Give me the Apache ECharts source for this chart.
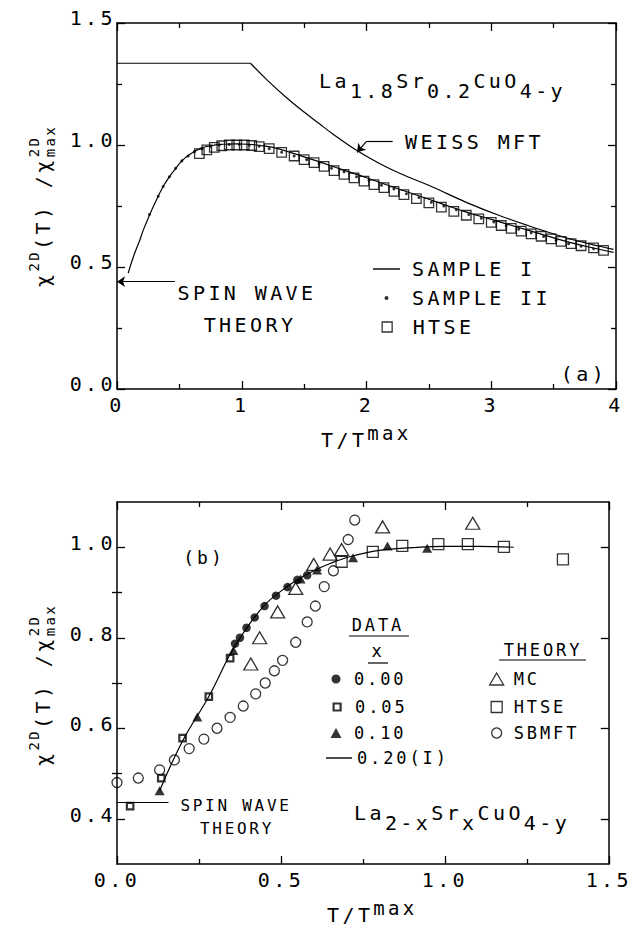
<!DOCTYPE html>
<html><head><meta charset="utf-8">
<script src="https://cdn.jsdelivr.net/npm/echarts@6.0.0/dist/echarts.min.js"></script>
<style>
html,body{margin:0;padding:0;background:#fff;}
#main{width:635px;height:931px;}
.ls #main text{letter-spacing:0.17em;}
</style></head>
<body><div id="main"></div>
<script>
// ---------- DATA: panel (a) ----------
const weissFlat = [[0,1.335],[1.07,1.335]];
const weissCurve = [[1.07,1.335],[1.2,1.268],[1.35,1.198],[1.5,1.135],[1.62,1.088],[1.73,1.045],[1.92,0.978],[2.1,0.925],[2.27,0.883],[2.53,0.828],[2.8,0.765],[3.07,0.71],[3.34,0.662],[3.6,0.62],[3.87,0.585],[3.98,0.572]];
const sample1 = [[0.09,0.475],[0.13,0.54],[0.184,0.612],[0.21,0.65],[0.25,0.70],[0.305,0.763],[0.37,0.83],[0.42,0.87],[0.465,0.90],[0.52,0.935],[0.585,0.962],[0.665,0.985],[0.75,0.997],[0.85,1.003],[0.95,1.005],[1.05,1.003],[1.15,0.998],[1.25,0.99],[1.4,0.968],[1.6,0.935],[1.8,0.9],[2.0,0.866],[2.2,0.83],[2.4,0.795],[2.6,0.76],[2.8,0.725],[3.0,0.695],[3.2,0.665],[3.4,0.635],[3.6,0.605],[3.8,0.58],[3.98,0.56]];
const sample2 = [[0.26,0.715],[0.33,0.79],[0.37,0.83],[0.42,0.87],[0.47,0.905],[0.52,0.935],[0.57,0.955],[0.62,0.972],[0.68,0.985],[0.75,0.995],[0.82,1.0],[0.9,1.002],[0.98,1.003],[1.06,1.0],[1.14,0.995],[1.22,0.985],[1.32,0.97],[1.42,0.955],[1.52,0.94],[1.62,0.925],[1.72,0.905],[1.82,0.89],[1.92,0.87],[2.02,0.855],[2.12,0.835],[2.22,0.82],[2.32,0.80],[2.42,0.785],[2.52,0.765],[2.62,0.75],[2.72,0.735],[2.82,0.715],[2.92,0.70],[3.02,0.685],[3.12,0.67],[3.22,0.655],[3.32,0.64],[3.42,0.625],[3.52,0.61],[3.62,0.595],[3.72,0.585],[3.82,0.575]];
const htseTop = [[0.66,0.965],[0.72,0.98],[0.78,0.99],[0.84,0.997],[0.9,1.0],[0.96,1.0],[1.02,1.0],[1.08,0.998],[1.14,0.993],[1.22,0.985],[1.32,0.97],[1.42,0.955],[1.5,0.94],[1.58,0.928],[1.66,0.912],[1.74,0.895],[1.82,0.88],[1.9,0.865],[1.98,0.852],[2.06,0.838],[2.14,0.825],[2.22,0.81],[2.3,0.797],[2.4,0.78],[2.5,0.763],[2.6,0.745],[2.7,0.728],[2.8,0.712],[2.9,0.697],[3.0,0.683],[3.08,0.67],[3.16,0.658],[3.24,0.647],[3.32,0.636],[3.4,0.626],[3.48,0.615],[3.56,0.605],[3.64,0.596],[3.72,0.587],[3.82,0.578],[3.9,0.568]];
const spinWaveA = 0.44;
const weissArrow = [[2.21,1.015],[2.0,1.015],[1.924,0.97]];
const topXTicks = [0,1,2,3,4];
const topYTicks = [0,0.5,1.0,1.5];

// ---------- DATA: panel (b) ----------
const line020 = [[0.13,0.462],[0.2,0.572],[0.28,0.67],[0.35,0.77],[0.4,0.826],[0.45,0.872],[0.5,0.903],[0.55,0.928],[0.6,0.948],[0.65,0.964],[0.71,0.979],[0.8,0.993],[0.9,0.999],[1.0,1.002],[1.1,1.002],[1.21,1.0]];
const x000 = [[0.36,0.787],[0.375,0.80],[0.395,0.822],[0.42,0.845],[0.45,0.87],[0.485,0.893],[0.52,0.912],[0.55,0.928],[0.58,0.938]];
const x005 = [[0.04,0.428],[0.135,0.49],[0.2,0.578],[0.28,0.67],[0.345,0.755]];
const x010 = [[0.13,0.462],[0.245,0.625],[0.355,0.772],[0.56,0.93],[0.61,0.95],[0.72,0.977],[0.825,1.003],[0.946,0.998]];
const mc = [[0.408,0.742],[0.435,0.80],[0.49,0.857],[0.545,0.909],[0.6,0.962],[0.65,0.985],[0.685,0.995],[0.81,1.045],[1.085,1.053]];
const htseBot = [[0.685,0.968],[0.78,0.99],[0.87,1.003],[0.98,1.007],[1.07,1.007],[1.18,1.001],[1.36,0.973]];
const sbmft = [[0.0,0.48],[0.065,0.49],[0.13,0.508],[0.175,0.53],[0.22,0.555],[0.265,0.576],[0.305,0.6],[0.345,0.624],[0.385,0.649],[0.423,0.676],[0.452,0.70],[0.48,0.727],[0.505,0.75],[0.545,0.79],[0.58,0.835],[0.605,0.87],[0.632,0.913],[0.66,0.948],[0.705,1.017],[0.725,1.06]];
const spinWaveB = [[0,0.437],[0.157,0.437]];
const botXTicks = [0,0.5,1.0,1.5];
const botYTicks = [0.4,0.6,0.8,1.0];
const botYMinor = [0.5,0.7,0.9];

// ---------- text metrics with plotter-like letter spacing ----------
const FONT = '"DejaVu Sans Mono", monospace';
const INK = '#000';
const LS = 0.17;
const mctx = document.createElement('canvas').getContext('2d');
const hasLS = ('letterSpacing' in mctx);
function measure(t, size){
  mctx.font = size + 'px ' + FONT;
  if (hasLS) mctx.letterSpacing = (size*LS) + 'px';
  return mctx.measureText(t).width;
}
if (hasLS && echarts.setPlatformAPI){
  echarts.setPlatformAPI({
    measureText(text, font){
      mctx.font = font || '12px sans-serif';
      const m = /(\d+(?:\.\d+)?)px/.exec(font || '12px');
      const sz = m ? parseFloat(m[1]) : 12;
      mctx.letterSpacing = (sz*LS) + 'px';
      return mctx.measureText(text);
    }
  });
  document.body.classList.add('ls');
}

function txt(x, y, t, size, align){
  return {type:'text', x:x, y:y, silent:true,
    style:{text:t, fontSize:size, fontFamily:FONT, fill:INK,
      align:align||'left', textAlign:align||'left', verticalAlign:'middle', textVerticalAlign:'middle'}};
}
function seq(x, y, parts){
  const out = []; let cx = x;
  parts.forEach(p => { out.push(txt(cx, y + p[1], p[0], p[2], 'left')); cx += measure(p[0], p[2]); });
  return out;
}
function yTitle(cx, cy){
  const M = 20, S = 14;
  const parts = [['χ',0,M],['2D',-9,S],['(T) /χ',0,M],['2D',-9,S]];
  const ws = parts.map(p => measure(p[0], p[2]));
  const total = ws[0]+ws[1]+ws[2]+Math.max(ws[3], measure('max',S));
  let x = -total/2; const kids = [];
  parts.forEach((p,i) => { kids.push(txt(x, p[1], p[0], p[2], 'left')); if (i < 3) x += ws[i]; });
  kids.push(txt(x, 7, 'max', S, 'left'));
  return {type:'group', x:cx, y:cy, rotation:Math.PI/2, silent:true, children:kids};
}
function uline(x1, x2, y){
  return {type:'line', silent:true, shape:{x1:x1,y1:y,x2:x2,y2:y}, style:{stroke:INK, lineWidth:1.2}};
}

const graphics = [].concat(
  seq(319, 81, [['La',0,20],['1.8',9.5,20],['Sr',0,20],['0.2',9.5,20],['CuO',0,20],['4-y',9.5,20]]),
  [txt(405, 142, 'WEISS MFT', 20, 'left'),
   txt(247, 293, 'SPIN WAVE', 20, 'center'),
   txt(250, 325, 'THEORY', 20, 'center'),
   txt(584, 374, '(a)', 20, 'center')],
  seq(321, 440, [['T/T',0,20],['max',-7,19]]),
  [yTitle(43, 206)],
  [txt(204, 557, '(b)', 18, 'center'),
   txt(378, 625, 'DATA', 17, 'center'), uline(349, 409, 636),
   txt(378, 651, 'x', 17, 'center'), uline(368, 388, 663),
   txt(543, 650, 'THEORY', 17, 'center'), uline(499, 586, 660),
   txt(236, 805, 'SPIN WAVE', 16, 'center'),
   txt(237, 828, 'THEORY', 16, 'center')],
  seq(354, 813, [['La',0,20],['2-x',10,20],['Sr',0,20],['x',10,20],['CuO',0,20],['4-y',10,20]]),
  seq(327, 915, [['T/T',0,20],['max',-7,19]]),
  [yTitle(43, 685)]
);

// ---------- axes ----------
const lineSt = {color:INK, width:1.5};
const tickSt = {color:INK, width:1.3};
function xAx(grid, pos, min, max, interval, labels, fmt){
  return {type:'value', gridIndex:grid, position:pos, min:min, max:max, interval:interval,
    axisLine:{show:true, onZero:false, lineStyle:lineSt},
    axisTick:{show:true, inside:true, length:8, lineStyle:tickSt},
    minorTick:{show:true, splitNumber:2, length:5, lineStyle:tickSt},
    splitLine:{show:false}, minorSplitLine:{show:false},
    axisLabel:{show:labels, margin:4, fontFamily:FONT, fontSize:20, color:INK, formatter:fmt, hideOverlap:false}};
}
const fmtInt = v => String(Math.round(v));
const fmt1 = v => v.toFixed(1);
const richLab = (raise) => ({a:{fontFamily:FONT, fontSize:20, color:INK, padding:[0,0,raise,0]}});

const xAxis = [
  xAx(0,'bottom',0,4,1,true,fmtInt),
  xAx(0,'top',0,4,1,false,fmtInt),
  xAx(1,'bottom',0,1.5,0.5,true,fmt1),
  xAx(1,'top',0,1.5,0.5,false,fmt1)
];
const yAxis = [
  {type:'value', gridIndex:0, position:'left', min:0, max:1.5, interval:0.5,
    axisLine:{show:true, onZero:false, lineStyle:lineSt},
    axisTick:{show:true, inside:true, length:8, lineStyle:tickSt},
    minorTick:{show:true, splitNumber:2, length:5, lineStyle:tickSt},
    splitLine:{show:false},
    axisLabel:{show:true, margin:1, formatter:v => '{a|' + fmt1(v) + '}', rich:richLab(11)}},
  {type:'value', gridIndex:0, position:'right', min:0, max:1.5, interval:0.5,
    axisLine:{show:true, onZero:false, lineStyle:lineSt},
    axisTick:{show:true, inside:true, length:8, lineStyle:tickSt},
    minorTick:{show:true, splitNumber:2, length:5, lineStyle:tickSt},
    splitLine:{show:false}, axisLabel:{show:false}},
  {type:'value', gridIndex:1, position:'left', min:0.3, max:1.1,
    axisLine:{show:true, onZero:false, lineStyle:lineSt},
    axisTick:{show:true, inside:true, length:8, lineStyle:tickSt, customValues:botYTicks},
    splitLine:{show:false},
    axisLabel:{show:true, margin:1, formatter:v => '{a|' + fmt1(v) + '}', rich:richLab(8), customValues:botYTicks}},
  {type:'value', gridIndex:1, position:'right', min:0.3, max:1.1,
    axisLine:{show:true, onZero:false, lineStyle:lineSt},
    axisTick:{show:true, inside:true, length:8, lineStyle:tickSt, customValues:botYTicks},
    splitLine:{show:false}, axisLabel:{show:false, customValues:botYTicks}},
  {type:'value', gridIndex:1, position:'left', min:0.3, max:1.1,
    axisLine:{show:false}, splitLine:{show:false},
    axisTick:{show:true, inside:true, length:5, lineStyle:tickSt, customValues:botYMinor},
    axisLabel:{show:false, customValues:botYMinor}},
  {type:'value', gridIndex:1, position:'right', min:0.3, max:1.1,
    axisLine:{show:false}, splitLine:{show:false},
    axisTick:{show:true, inside:true, length:5, lineStyle:tickSt, customValues:botYMinor},
    axisLabel:{show:false, customValues:botYMinor}}
];

// ---------- series ----------
const ls = {color:INK, width:1.2};
const empty = {color:'rgba(0,0,0,0)', borderColor:INK, borderWidth:1.3};
const ml = (data) => ({silent:true, animation:false, symbolSize:8, label:{show:false},
  lineStyle:{color:INK, width:1.2, type:'solid'}, emphasis:{disabled:true}, data:data});

const series = [
  {name:'WEISS MFT', type:'line', xAxisIndex:0, yAxisIndex:0, data:weissFlat, symbol:'none', lineStyle:ls, itemStyle:{color:INK}},
  {name:'WEISS MFT', type:'line', xAxisIndex:0, yAxisIndex:0, data:weissCurve, symbol:'none', smooth:0.4, lineStyle:ls, itemStyle:{color:INK},
    markLine: ml([
      [{coord:weissArrow[0], symbol:'none'},{coord:weissArrow[1], symbol:'none'}],
      [{coord:weissArrow[1], symbol:'none'},{coord:weissArrow[2], symbol:'arrow'}]
    ])},
  {name:'SAMPLE I', type:'line', xAxisIndex:0, yAxisIndex:0, data:sample1, symbol:'none', smooth:0.4, lineStyle:ls, itemStyle:{color:INK},
    markLine: ml([[{coord:[0,spinWaveA], symbol:'arrow'},{coord:[0.465,spinWaveA], symbol:'none'}]])},
  {name:'HTSE', type:'scatter', xAxisIndex:0, yAxisIndex:0, data:htseTop, symbol:'rect', symbolSize:9.5, itemStyle:empty},
  {name:'SAMPLE II', type:'scatter', xAxisIndex:0, yAxisIndex:0, data:sample2, symbol:'circle', symbolSize:3, itemStyle:{color:INK}},

  {name:'0.20(I)', type:'line', xAxisIndex:2, yAxisIndex:2, data:line020, symbol:'none', smooth:0.4, lineStyle:ls, itemStyle:{color:INK},
    markLine: ml([[{coord:spinWaveB[0], symbol:'none'},{coord:spinWaveB[1], symbol:'none'}]])},
  {name:'SBMFT', type:'scatter', xAxisIndex:2, yAxisIndex:2, data:sbmft, symbol:'circle', symbolSize:10, itemStyle:empty},
  {name:'MC', type:'scatter', xAxisIndex:2, yAxisIndex:2, data:mc, symbol:'triangle', symbolSize:[14,12], itemStyle:empty},
  {name:'HTSE', type:'scatter', xAxisIndex:2, yAxisIndex:2, data:htseBot, symbol:'rect', symbolSize:11, itemStyle:empty},
  {name:'0.00', type:'scatter', xAxisIndex:2, yAxisIndex:2, data:x000, symbol:'circle', symbolSize:8.5, itemStyle:{color:INK}},
  {name:'0.05', type:'scatter', xAxisIndex:2, yAxisIndex:2, data:x005, symbol:'rect', symbolSize:6.5, itemStyle:{color:'#fff', borderColor:INK, borderWidth:2.2}},
  {name:'0.10', type:'scatter', xAxisIndex:2, yAxisIndex:2, data:x010, symbol:'triangle', symbolSize:[10,9], itemStyle:{color:INK}}
];

// ---------- legends (one component per row, so each key is sized like the reference) ----------
// cx: key centre, cy: row centre, tx: text start
function leg(name, cx, cy, w, h, tx, size, style, icon){
  const left = cx - w/2;
  const lh = size*(1+LS);
  const o = {data:[name], left:left, top:cy - lh/2, orient:'vertical', padding:0,
    itemWidth:w, itemHeight:h, symbolKeepAspect:false, selectedMode:false, itemGap:0,
    textStyle:{fontFamily:FONT, fontSize:size, color:INK, padding:[0,0,0,Math.max(0, tx - (left + w + 5))]}};
  if (style) o.itemStyle = style;
  if (icon) o.icon = icon;
  return o;
}
const emptyLeg = {color:'rgba(0,0,0,0)', borderColor:INK, borderWidth:1.3};
const solid = {color:INK, borderWidth:0};
const legend = [
  leg('SAMPLE I', 386.5, 269, 27, 1.4, 412, 20, solid, 'rect'),
  leg('SAMPLE II', 386.5, 298, 4, 4, 412, 20, solid, 'circle'),
  leg('HTSE', 386.5, 327, 10, 10, 412, 20, emptyLeg, 'rect'),
  leg('0.00', 336, 679, 9, 9, 354, 17, solid, 'circle'),
  leg('0.05', 336, 707, 7, 7, 354, 17, {color:'#fff', borderColor:INK, borderWidth:2.2}, 'rect'),
  leg('0.10', 336, 733, 11, 10, 354, 17, solid, 'triangle'),
  leg('0.20(I)', 339, 758, 26, 1.4, 357, 17, solid, 'rect'),
  leg('MC', 496, 679, 14, 12, 513, 17, emptyLeg, 'triangle'),
  leg('HTSE', 496, 707, 11, 11, 513, 17, emptyLeg, 'rect'),
  leg('SBMFT', 496, 733, 10, 10, 513, 17, emptyLeg, 'circle')
];

const chart = echarts.init(document.getElementById('main'), null, {renderer:'svg', width:635, height:931});
chart.setOption({
  animation:false,
  backgroundColor:'#fff',
  textStyle:{fontFamily:FONT, color:INK},
  grid:[
    {left:117, top:23, width:499, height:366, containLabel:false},
    {left:117, top:502, width:499, height:362, containLabel:false}
  ],
  xAxis:xAxis, yAxis:yAxis, legend:legend, series:series, graphic:graphics
});
</script></body></html>
